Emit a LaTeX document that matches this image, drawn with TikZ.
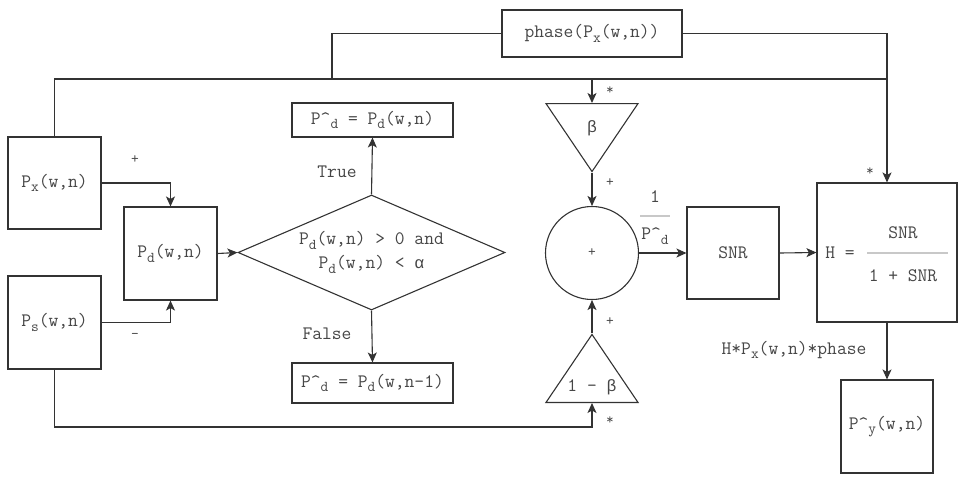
\documentclass[tikz,border=0pt]{standalone}
\usepackage{fontspec}
\newfontfamily\greekmono{Liberation Mono}
\usepackage{tikz}
\usetikzlibrary{arrows.meta,calc,positioning,shapes.geometric}
\definecolor{FlowInk}{RGB}{51,51,51}
\definecolor{FlowText}{RGB}{70,70,70}
\definecolor{FlowFaint}{RGB}{200,200,200}
\newcommand{\lo}[1]{\raisebox{-0.55ex}{\fontsize{15}{16}\selectfont #1}}
\newcommand{\hatP}[1]{P\textasciicircum\lo{#1}}
\newcommand{\gk}[1]{{\greekmono\fontsize{16.5}{24}\selectfont #1}}

\begin{document}
\begin{tikzpicture}[x=1pt,y=-1pt,
  every node/.style={font=\ttfamily\fontsize{19}{24}\selectfont,text=FlowText},
  blk/.style={draw=FlowInk,line width=1.1pt,inner sep=0pt},
  small/.style={font=\ttfamily\fontsize{15}{16}\selectfont},
  wire/.style={draw=FlowInk,line width=1.1pt},
  arr/.style={wire,-{Stealth[length=10pt,width=9pt,inset=2.5pt]}},
  tri/.style={blk,isosceles triangle,isosceles triangle stretches,minimum width=92pt,minimum height=68pt}]
\useasboundingbox (0,0) rectangle (963,480);
% blocks
\node[blk,minimum width=93pt,minimum height=92pt] (px) at (54.5,183) {P\lo{x}(w,n)};
\node[blk,minimum width=93pt,minimum height=93pt] (ps) at (54.5,322.5) {P\lo{s}(w,n)};
\node[blk,minimum width=93pt,minimum height=93pt] (pd) at (170.5,253.5) {P\lo{d}(w,n)};
\node[blk,diamond,minimum width=267pt,minimum height=115pt] (cond) at (371.5,252.5) {};
\node[align=center] (condtxt) at (cond.center) {P\lo{d}(w,n) > 0 and\\P\lo{d}(w,n) < \gk{α}};
\node[blk,minimum width=161pt,minimum height=34pt] (dtrue) at (372.5,120) {\hatP{d} = P\lo{d}(w,n)};
\node[blk,minimum width=161pt,minimum height=40pt] (dfalse) at (372.5,383) {\hatP{d} = P\lo{d}(w,n-1)};
\node[blk,minimum width=180pt,minimum height=47pt] (phase) at (592,33.5) {phase(P\lo{x}(w,n))};
\node[tri,shape border rotate=270,anchor=north] (beta) at (592,103) {};
\node (betatxt) at (592,128) {\gk{β}};
\node[tri,shape border rotate=90,anchor=south] (gamma) at (592,403) {};
\node (gammatxt) at (592,387) {1 – \gk{β}};
\node[blk,circle,minimum size=93pt,small] (sum) at (592,253) {+};
\node[blk,minimum width=92pt,minimum height=92pt] (snr) at (733,253) {SNR};
\node[blk,minimum width=140pt,minimum height=139pt] (hbox) at (887,252.5) {};
\node[blk,minimum width=92pt,minimum height=93pt] (py) at (887,426.5) {\hatP{y}(w,n)};
% text in the gain block
\node (heq) at (840,253) {H =};
\node (hnum) at (903,233) {SNR};
\node (hden) at (903,276) {1 + SNR};
\draw[FlowFaint,line width=1.1pt] (867,253) -- (948,253);
% labels
\node[small] (plusx) at (135,160) {+};
\node[small] (minuss) at (135,336) {–};
\node (ltrue) at (337,172) {True};
\node (lfalse) at (327,334) {False};
\node[small] (starb) at (610,91) {*};
\node[small] (plusb) at (610,183) {+};
\node[small] (plusg) at (610,322) {+};
\node[small] (starg) at (610,421) {*};
\node[small] (starh) at (870,172) {*};
\node (one) at (655,197) {1};
\node (pinv) at (655,236) {\hatP{d}};
\draw[FlowFaint,line width=1.1pt] (640,216) -- (670,216);
\node (lout) at (794,350) {H*P\lo{x}(w,n)*phase};
% wires
\coordinate (jL) at (332,79);
\coordinate (jR) at (887,79);
\coordinate (jB) at (592,427);
\draw[wire] (px.north) |- (jR);
\draw[wire] (jL) |- (phase.west);
\draw[arr] (phase.east) -| (hbox.north);
\draw[arr] (beta.north |- jR) -- (beta.north);
\draw[arr] (ps.south) |- (jB) -- (gamma.south);
\draw[arr] (px.east) -| (pd.north);
\draw[arr] (ps.east) -| (pd.south);
\draw[arr] (pd.east) -- (cond.west);
\draw[arr] (cond.north) -- (dtrue.south);
\draw[arr] (cond.south) -- (dfalse.north);
\draw[arr] (beta.south) -- (sum.north);
\draw[arr] (gamma.north) -- (sum.south);
\draw[arr] (sum.east) -- (snr.west);
\draw[arr] (snr.east) -- (hbox.west);
\draw[arr] (hbox.south) -- (py.north);
\end{tikzpicture}
\end{document}
